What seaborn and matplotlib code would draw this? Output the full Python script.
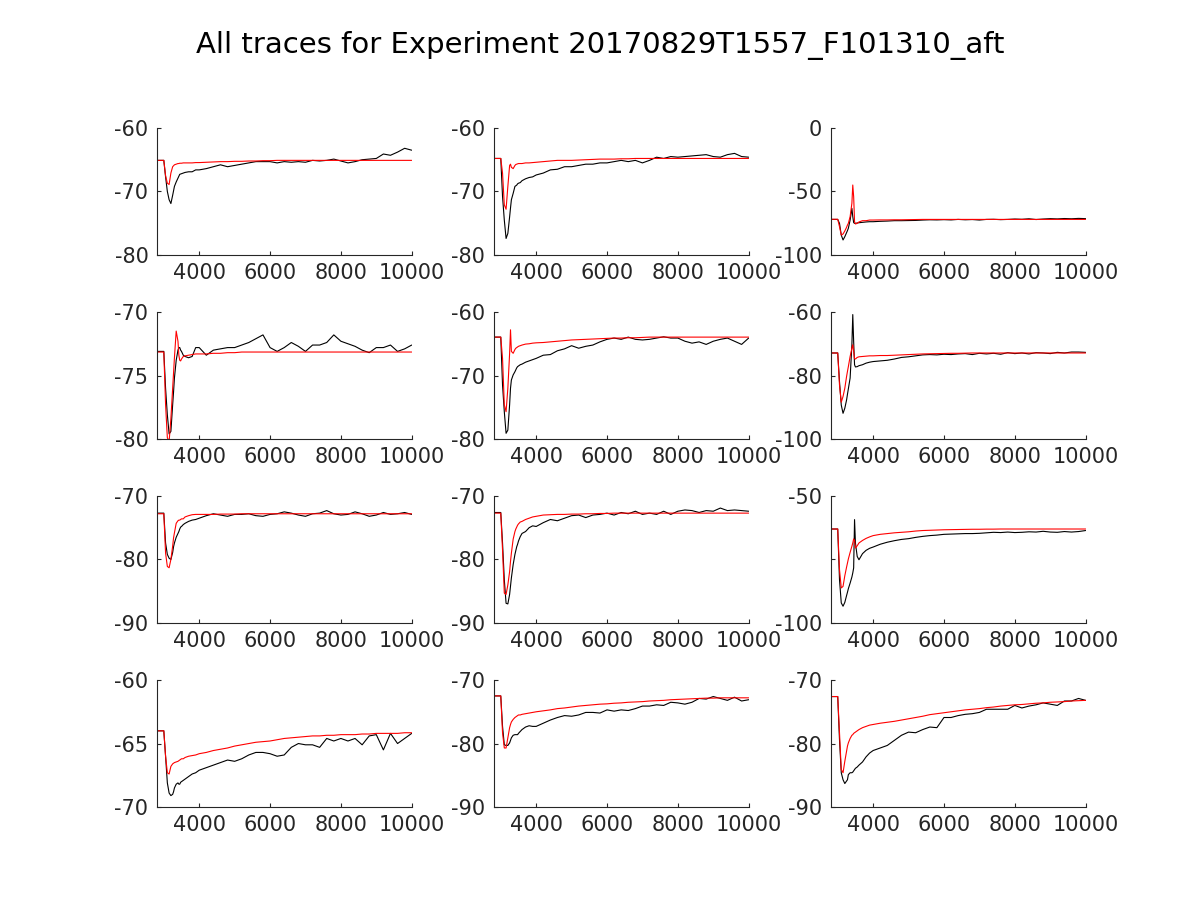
import pandas as pd
import matplotlib
matplotlib.use("Agg")
import matplotlib.pyplot as plt
import seaborn as sns

# sample times (ms), dense around the stimulus
time_ms = [2800, 2900, 3000, 3050, 3100, 3150, 3200, 3250, 3275, 3300, 3350,
           3400, 3425, 3450, 3475, 3500, 3550, 3600, 3700, 3800, 3900, 4000,
           4200, 4400, 4600, 4800, 5000, 5200, 5400, 5600, 5800, 6000,
           6200, 6400, 6600, 6800, 7000, 7200, 7400, 7600, 7800, 8000,
           8200, 8400, 8600, 8800, 9000, 9200, 9400, 9600, 9800, 10000]

# recorded traces (black) and model traces (red), one pair per panel
rec_1 = [-65.1, -65.1, -65.1, -67.7, -70.0, -71.3, -71.9, -70.6, -69.9, -69.2, -68.5,
         -67.9, -67.6, -67.3, -67.25, -67.2, -67.1, -67.0, -66.9, -66.9, -66.6, -66.6,
         -66.4, -66.1, -65.8, -66.1, -65.9, -65.7, -65.5, -65.3, -65.3, -65.3,
         -65.5, -65.3, -65.4, -65.3, -65.4, -65.1, -65.2, -65.1, -64.9, -65.2,
         -65.5, -65.3, -65.0, -64.9, -64.8, -64.1, -64.3, -63.8, -63.2, -63.5]
fit_1 = [-65.1, -65.1, -65.1, -67.5, -68.7, -68.9, -67.1, -66.1, -65.95, -65.8, -65.7,
         -65.6, -65.6, -65.55, -65.55, -65.55, -65.5, -65.5, -65.5, -65.5, -65.45, -65.45,
         -65.4, -65.35, -65.3, -65.3, -65.25, -65.25, -65.2, -65.2, -65.15, -65.15,
         -65.1, -65.1, -65.1, -65.1, -65.1, -65.1, -65.1, -65.1, -65.1, -65.1,
         -65.1, -65.1, -65.1, -65.1, -65.1, -65.1, -65.1, -65.1, -65.1, -65.1]

rec_2 = [-64.8, -64.8, -64.8, -70.8, -74.5, -77.4, -76.6, -74.0, -72.6, -71.3, -70.3,
         -69.2, -69.1, -69.0, -68.8, -68.7, -68.6, -68.3, -68.0, -67.8, -67.7, -67.4,
         -67.1, -66.6, -66.5, -66.1, -66.1, -65.9, -65.7, -65.7, -65.5, -65.5,
         -65.3, -65.1, -65.3, -65.1, -65.5, -65.1, -64.6, -64.8, -64.5, -64.6,
         -64.5, -64.4, -64.3, -64.2, -64.5, -64.6, -64.2, -64.0, -64.5, -64.6]
fit_2 = [-64.8, -64.8, -64.8, -67.1, -72.1, -72.8, -69.2, -65.9, -65.7, -66.2, -66.4,
         -65.9, -65.75, -65.7, -65.65, -65.6, -65.6, -65.6, -65.5, -65.5, -65.45, -65.4,
         -65.3, -65.2, -65.1, -65.1, -65.1, -65.05, -65.0, -64.95, -64.9, -64.9,
         -64.9, -64.85, -64.85, -64.8, -64.8, -64.8, -64.8, -64.8, -64.8, -64.8,
         -64.8, -64.8, -64.8, -64.8, -64.8, -64.8, -64.8, -64.8, -64.8, -64.8]

rec_3 = [-72.0, -72.0, -72.0, -75.1, -84.3, -88.2, -85.6, -82.4, -80.8, -79.0, -72.5,
         -63.3, -69.8, -74.5, -75.1, -75.1, -74.8, -74.6, -74.3, -74.0, -73.8, -73.8,
         -73.5, -73.3, -73.0, -73.0, -72.9, -72.8, -72.5, -72.3, -72.4, -72.2,
         -72.4, -72.0, -72.3, -72.1, -72.5, -72.0, -71.9, -72.2, -72.0, -71.7,
         -71.9, -71.5, -72.1, -71.7, -71.4, -71.6, -71.3, -71.5, -71.2, -71.4]
fit_3 = [-71.9, -71.9, -71.9, -77.7, -84.3, -83.5, -81.1, -78.2, -76.4, -75.1, -69.8,
         -59.3, -44.9, -54.1, -73.8, -75.6, -75.1, -74.0, -73.0, -73.0, -72.5, -72.5,
         -72.4, -72.4, -72.3, -72.3, -72.2, -72.1, -72.0, -72.0, -72.0, -72.0,
         -72.0, -72.0, -72.0, -72.0, -72.0, -72.0, -72.0, -72.0, -72.0, -72.0,
         -72.0, -72.0, -72.0, -72.0, -72.0, -72.0, -72.0, -72.0, -72.0, -72.0]

rec_4 = [-73.1, -73.1, -73.1, -76.0, -78.1, -79.6, -79.4, -77.3, -76.3, -75.2, -73.8,
         -73.0, -72.8, -72.8, -73.0, -73.1, -73.4, -73.5, -73.6, -73.5, -72.8, -72.8,
         -73.4, -73.0, -72.9, -72.8, -72.8, -72.6, -72.4, -72.1, -71.8, -72.8,
         -73.1, -72.8, -72.4, -72.7, -73.1, -72.6, -72.6, -72.4, -71.8, -72.3,
         -72.5, -72.7, -73.0, -73.2, -72.8, -72.8, -72.6, -73.1, -72.9, -72.6]
fit_4 = [-73.15, -73.15, -73.15, -77.3, -79.9, -80.2, -78.4, -76.0, -74.8, -73.6, -71.5,
         -72.3, -73.4, -73.8, -73.85, -73.7, -73.5, -73.45, -73.4, -73.35, -73.3, -73.3,
         -73.3, -73.25, -73.25, -73.2, -73.2, -73.15, -73.15, -73.15, -73.15, -73.15,
         -73.15, -73.15, -73.15, -73.15, -73.15, -73.15, -73.15, -73.15, -73.15, -73.15,
         -73.15, -73.15, -73.15, -73.15, -73.15, -73.15, -73.15, -73.15, -73.15, -73.15]

rec_5 = [-63.95, -63.95, -63.95, -71.5, -75.7, -79.1, -78.6, -74.6, -72.0, -70.7, -69.9,
         -69.4, -69.1, -68.8, -68.6, -68.5, -68.3, -68.2, -67.9, -67.7, -67.5, -67.3,
         -66.8, -66.7, -66.1, -65.8, -65.3, -65.7, -65.4, -65.2, -64.7, -64.3,
         -64.1, -64.3, -63.95, -64.3, -64.4, -64.3, -64.1, -63.9, -64.1, -64.1,
         -64.6, -64.9, -64.7, -65.1, -64.6, -64.3, -64.1, -64.6, -65.1, -64.1]
fit_5 = [-63.95, -63.95, -63.95, -67.3, -74.6, -75.7, -72.0, -66.5, -62.8, -66.2, -66.5,
         -65.9, -65.7, -65.6, -65.5, -65.4, -65.3, -65.2, -65.05, -65.0, -64.9, -64.85,
         -64.8, -64.7, -64.6, -64.5, -64.4, -64.35, -64.3, -64.25, -64.2, -64.15,
         -64.1, -64.1, -64.05, -64.05, -64.0, -63.95, -63.95, -63.95, -63.95, -63.95,
         -63.95, -63.95, -63.95, -63.95, -63.95, -63.95, -63.95, -63.95, -63.95, -63.95]

rec_6 = [-72.9, -72.9, -72.9, -81.9, -89.3, -91.9, -90.3, -87.7, -85.9, -84.2, -80.8,
         -70.3, -60.8, -69.3, -76.6, -77.3, -77.2, -76.9, -76.6, -76.1, -75.8, -75.6,
         -75.4, -75.2, -74.8, -74.3, -74.1, -73.8, -73.5, -73.4, -73.5, -73.3,
         -73.4, -73.2, -73.1, -73.4, -73.0, -73.2, -73.0, -73.3, -72.8, -73.1,
         -72.9, -73.2, -72.8, -72.9, -73.1, -72.7, -72.9, -72.6, -72.6, -72.7]
fit_6 = [-72.9, -72.9, -72.9, -83.0, -88.4, -86.6, -84.0, -80.3, -78.7, -77.2, -74.0,
         -71.4, -70.3, -72.4, -74.7, -74.8, -74.3, -74.1, -74.0, -73.9, -73.8, -73.8,
         -73.7, -73.7, -73.6, -73.5, -73.4, -73.3, -73.2, -73.15, -73.1, -73.05,
         -73.0, -73.0, -72.95, -72.9, -72.9, -72.9, -72.9, -72.9, -72.9, -72.9,
         -72.9, -72.9, -72.9, -72.9, -72.9, -72.9, -72.9, -72.9, -72.9, -72.9]

rec_7 = [-72.7, -72.7, -72.7, -77.4, -79.2, -79.8, -80.0, -78.9, -78.0, -77.4, -76.5,
         -75.9, -75.6, -75.2, -74.9, -74.8, -74.5, -74.3, -74.0, -73.8, -73.7, -73.5,
         -73.1, -72.8, -73.0, -73.2, -72.9, -72.9, -72.8, -73.1, -73.2, -72.9,
         -72.8, -72.5, -72.7, -73.0, -73.2, -72.8, -72.7, -72.3, -72.8, -73.0,
         -72.9, -72.5, -72.8, -73.2, -73.0, -72.6, -72.9, -72.8, -72.6, -72.9]
fit_7 = [-72.8, -72.8, -72.8, -79.0, -81.1, -81.3, -80.0, -77.9, -76.6, -75.8, -74.3,
         -73.9, -73.8, -73.8, -73.7, -73.6, -73.6, -73.3, -73.1, -72.95, -72.9, -72.9,
         -72.9, -72.9, -72.85, -72.85, -72.85, -72.8, -72.8, -72.8, -72.8, -72.8,
         -72.8, -72.8, -72.8, -72.8, -72.8, -72.8, -72.8, -72.8, -72.8, -72.8,
         -72.8, -72.8, -72.8, -72.8, -72.8, -72.8, -72.8, -72.8, -72.8, -72.8]

rec_8 = [-72.6, -72.6, -72.6, -77.4, -83.2, -86.9, -87.0, -85.5, -84.2, -82.9, -80.8,
         -79.2, -78.6, -78.0, -77.6, -77.1, -76.4, -75.9, -75.6, -75.0, -74.7, -74.8,
         -74.2, -73.7, -73.9, -73.5, -73.1, -73.0, -73.4, -73.0, -72.9, -72.7,
         -73.0, -72.6, -72.8, -72.4, -72.9, -72.7, -72.9, -72.4, -72.9, -72.4,
         -72.2, -72.3, -72.6, -72.3, -72.4, -71.9, -72.3, -72.2, -72.3, -72.4]
fit_8 = [-72.7, -72.7, -72.7, -78.5, -85.3, -85.5, -84.0, -81.9, -80.3, -79.0, -76.8,
         -75.6, -75.2, -74.9, -74.6, -74.4, -74.1, -74.0, -73.7, -73.5, -73.3, -73.2,
         -73.0, -72.95, -72.9, -72.9, -72.85, -72.85, -72.8, -72.8, -72.75, -72.75,
         -72.7, -72.7, -72.7, -72.7, -72.7, -72.7, -72.7, -72.7, -72.7, -72.7,
         -72.7, -72.7, -72.7, -72.7, -72.7, -72.7, -72.7, -72.7, -72.7, -72.7]

rec_9 = [-63.0, -63.0, -63.0, -82.9, -92.1, -93.4, -91.9, -89.2, -87.9, -86.5, -84.3,
         -81.9, -80.3, -78.3, -59.3, -68.5, -73.8, -75.1, -72.7, -71.4, -70.6, -70.1,
         -69.0, -68.2, -67.6, -67.1, -66.8, -66.3, -65.9, -65.6, -65.4, -65.1,
         -65.0, -64.9, -64.8, -64.8, -64.7, -64.5, -64.3, -64.4, -64.2, -64.4,
         -64.3, -64.1, -64.2, -63.9, -64.2, -64.3, -64.0, -64.2, -64.0, -63.6]
fit_9 = [-63.0, -63.0, -63.0, -79.0, -86.2, -85.6, -81.4, -78.0, -76.4, -74.8, -72.2,
         -69.8, -68.5, -66.9, -67.5, -70.5, -69.6, -68.5, -67.5, -66.7, -66.1, -65.6,
         -65.1, -64.8, -64.5, -64.3, -64.1, -63.8, -63.6, -63.5, -63.4, -63.3,
         -63.25, -63.2, -63.15, -63.1, -63.1, -63.05, -63.05, -63.0, -63.0, -63.0,
         -63.0, -63.0, -63.0, -63.0, -63.0, -63.0, -63.0, -63.0, -63.0, -63.0]

rec_10 = [-64.0, -64.0, -64.0, -66.0, -68.1, -68.9, -69.1, -69.0, -68.8, -68.5, -68.2,
          -68.1, -68.2, -68.2, -68.05, -68.0, -67.9, -67.8, -67.6, -67.4, -67.3, -67.1,
          -66.9, -66.7, -66.5, -66.3, -66.4, -66.2, -65.9, -65.7, -65.7, -65.8,
          -66.0, -65.9, -65.3, -65.0, -65.1, -65.1, -65.3, -64.6, -64.8, -64.6,
          -64.8, -64.6, -65.1, -64.4, -64.3, -65.5, -64.2, -65.0, -64.6, -64.2]
fit_10 = [-64.0, -64.0, -64.0, -66.0, -67.3, -67.4, -66.8, -66.6, -66.55, -66.5, -66.45,
          -66.4, -66.35, -66.3, -66.25, -66.2, -66.2, -66.1, -66.0, -65.95, -65.9, -65.8,
          -65.7, -65.55, -65.45, -65.35, -65.2, -65.1, -65.0, -64.9, -64.85, -64.8,
          -64.7, -64.6, -64.55, -64.5, -64.45, -64.4, -64.4, -64.35, -64.35, -64.3,
          -64.3, -64.3, -64.25, -64.25, -64.2, -64.2, -64.2, -64.2, -64.15, -64.15]

rec_11 = [-72.5, -72.5, -72.5, -77.3, -80.2, -80.3, -80.3, -79.9, -79.5, -79.1, -78.7,
          -78.6, -78.6, -78.6, -78.6, -78.4, -78.1, -77.8, -77.4, -77.2, -77.3, -77.3,
          -76.8, -76.3, -75.9, -75.6, -75.7, -75.5, -75.1, -75.1, -75.2, -74.7,
          -74.9, -74.7, -74.8, -74.5, -74.1, -74.1, -73.9, -74.0, -73.5, -73.6,
          -73.8, -73.5, -72.9, -73.0, -72.6, -72.9, -73.2, -72.7, -73.3, -73.1]
fit_11 = [-72.5, -72.5, -72.5, -78.3, -80.7, -80.7, -79.1, -77.5, -77.0, -76.6, -76.2,
          -75.9, -75.8, -75.7, -75.6, -75.5, -75.5, -75.4, -75.3, -75.2, -75.1, -75.0,
          -74.85, -74.7, -74.5, -74.4, -74.25, -74.1, -74.0, -73.9, -73.8, -73.75,
          -73.65, -73.6, -73.5, -73.45, -73.4, -73.3, -73.25, -73.2, -73.1, -73.05,
          -73.0, -72.95, -72.9, -72.85, -72.85, -72.8, -72.8, -72.8, -72.8, -72.8]

rec_12 = [-72.6, -72.6, -72.6, -79.4, -84.6, -85.7, -86.3, -85.9, -85.7, -84.9, -84.6,
          -84.6, -84.5, -84.3, -84.1, -83.9, -83.7, -83.4, -82.9, -82.1, -81.5, -81.1,
          -80.7, -80.3, -79.5, -78.7, -78.2, -78.3, -77.8, -77.4, -77.5, -75.9,
          -75.9, -75.6, -75.4, -75.3, -75.1, -74.6, -74.6, -74.6, -74.6, -74.0,
          -74.4, -74.1, -73.9, -73.6, -73.8, -74.0, -73.3, -73.3, -72.9, -73.2]
fit_12 = [-72.6, -72.6, -72.6, -78.3, -84.1, -84.6, -82.8, -81.2, -80.4, -79.9, -79.2,
          -78.7, -78.6, -78.4, -78.3, -78.2, -78.0, -77.8, -77.5, -77.3, -77.1, -77.0,
          -76.8, -76.65, -76.5, -76.3, -76.1, -75.9, -75.7, -75.45, -75.3, -75.15,
          -75.0, -74.85, -74.7, -74.6, -74.5, -74.35, -74.25, -74.1, -74.0, -73.9,
          -73.85, -73.75, -73.65, -73.6, -73.5, -73.45, -73.4, -73.3, -73.25, -73.2]

recorded = [rec_1, rec_2, rec_3, rec_4, rec_5, rec_6,
            rec_7, rec_8, rec_9, rec_10, rec_11, rec_12]
fitted = [fit_1, fit_2, fit_3, fit_4, fit_5, fit_6,
          fit_7, fit_8, fit_9, fit_10, fit_11, fit_12]

y_limits = [(-80, -60), (-80, -60), (-100, 0),
            (-80, -70), (-80, -60), (-100, -60),
            (-90, -70), (-90, -70), (-100, -50),
            (-70, -60), (-90, -70), (-90, -70)]
y_ticks = [[-80, -70, -60], [-80, -70, -60], [-100, -50, 0],
           [-80, -75, -70], [-80, -70, -60], [-100, -80, -60],
           [-90, -80, -70], [-90, -80, -70], [-100, -75, -50],
           [-70, -65, -60], [-90, -80, -70], [-90, -80, -70]]
y_ticklabels = [["-80", "-70", "-60"], ["-80", "-70", "-60"], ["-100", "-50", "0"],
                ["-80", "-75", "-70"], ["-80", "-70", "-60"], ["-100", "-80", "-60"],
                ["-90", "-80", "-70"], ["-90", "-80", "-70"], ["-100", "", "-50"],
                ["-70", "-65", "-60"], ["-90", "-80", "-70"], ["-90", "-80", "-70"]]
x_ticks = [4000, 6000, 8000, 10000]
title = "All traces for Experiment 20170829T1557_F101310_aft"

sns.set_theme(style="ticks", rc={
    "axes.edgecolor": "#262626",
    "xtick.color": "#262626",
    "ytick.color": "#262626",
    "xtick.direction": "in",
    "ytick.direction": "in",
    "axes.linewidth": 0.8,
})
plt.rcParams["font.family"] = ["DejaVu Sans"]

fig = plt.figure(figsize=(12, 9), dpi=100)
lefts = [0.1306, 0.4114, 0.6922]
bottoms = [0.7167, 0.5122, 0.3078, 0.1033]

for i in range(12):
    r, c = divmod(i, 3)
    ax = fig.add_axes([lefts[c], bottoms[r], 0.2125, 0.1411])
    df = pd.DataFrame({"t": time_ms, "rec": recorded[i], "fit": fitted[i]})
    sns.lineplot(data=df, x="t", y="rec", color="black", linewidth=0.8, ax=ax)
    sns.lineplot(data=df, x="t", y="fit", color="red", linewidth=0.8, ax=ax)
    ax.set_xlim(2800, 10000)
    ax.set_ylim(*y_limits[i])
    ax.set_xticks(x_ticks)
    ax.set_yticks(y_ticks[i])
    ax.set_yticklabels(y_ticklabels[i])
    ax.set_xlabel("")
    ax.set_ylabel("")
    ax.tick_params(labelsize=15, length=3, width=0.8, labelcolor="#262626", pad=6)
    sns.despine(ax=ax)

fig.suptitle(title, fontsize=21, y=0.965, color="black")
fig.savefig("out.png", dpi=100)
